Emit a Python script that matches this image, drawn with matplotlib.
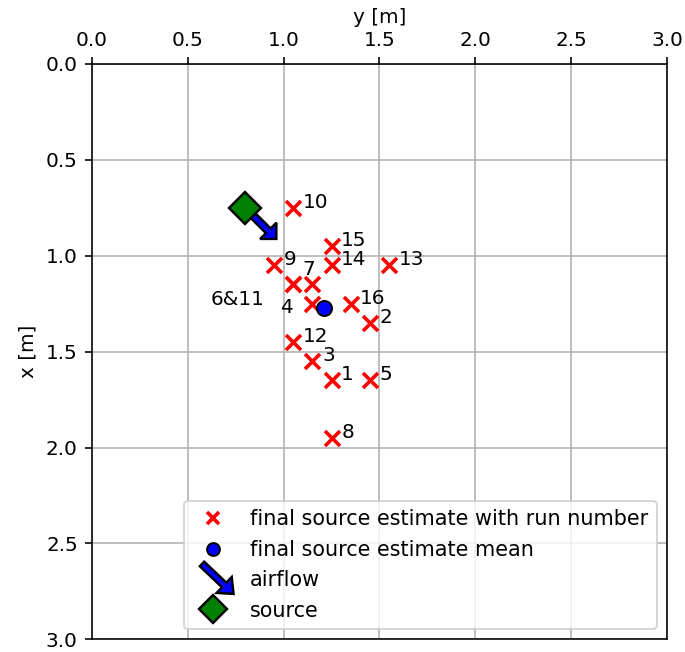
import numpy as np
import matplotlib
matplotlib.use("Agg")
import matplotlib.pyplot as plt
import matplotlib.patches as mpatches
from matplotlib.lines import Line2D
from matplotlib.legend_handler import HandlerPatch

# final source estimates per run (y horizontal, x vertical) [m]
run_ids = [1, 2, 3, 4, 5, 6, 7, 8, 9, 10, 11, 12, 13, 14, 15, 16]
est_y = [1.25, 1.45, 1.15, 1.15, 1.45, 1.05, 1.15, 1.25, 0.95, 1.05, 1.05, 1.05, 1.55, 1.25, 1.25, 1.35]
est_x = [1.65, 1.35, 1.55, 1.25, 1.65, 1.15, 1.15, 1.95, 1.05, 0.75, 1.15, 1.45, 1.05, 1.05, 0.95, 1.25]

# source position and airflow direction
source_y, source_x = 0.80, 0.75
flow_dy, flow_dx = 0.12, 0.12

# runs sharing a spot get one label
labels = {i: str(i) for i in run_ids}
labels[6] = "6&11"
labels[11] = ""

# label offsets (dy, dx, ha), default is right of the marker
label_pos = {"6&11": (-0.15, 0.105, "right"), 4: (-0.10, 0.05, "right"), 7: (-0.05, -0.05, "left")}

fig = plt.figure(figsize=(685 / 144, 652 / 144), dpi=144)
ax = fig.add_axes([0.134, 0.0184, 0.840, 0.8846])

ax.plot(est_y, est_x, "x", color="red", ms=7.5, mew=1.8, ls="none", zorder=4)
ax.plot(np.mean(est_y), np.mean(est_x), "o", color="blue", mec="black", ms=7.5, mew=1.0, zorder=5)

arrow = ax.arrow(source_y, source_x, flow_dy, flow_dx, width=0.035, head_width=0.12,
                 head_length=0.06, fc="blue", ec="black", lw=1.2, zorder=5)
ax.plot(source_y, source_x, "D", color="green", mec="black", ms=11.5, mew=1.2, zorder=6)

for i, y, x in zip(run_ids, est_y, est_x):
    txt = labels[i]
    if not txt:
        continue
    key = txt if txt in label_pos else i
    dy, dx, ha = label_pos.get(key, (0.05, 0.0, "left"))
    ax.text(y + dy, x + dx, txt, ha=ha, va="baseline", fontsize=10, zorder=7)

ax.set_xlim(0, 3)
ax.set_ylim(3, 0)
ax.set_aspect("equal")
ax.xaxis.tick_top()
ax.xaxis.set_label_position("top")
ax.set_xlabel("y [m]")
ax.set_ylabel("x [m]")
ax.grid(True)
ax.set_axisbelow(True)


def make_arrow(legend, orig_handle, xdescent, ydescent, width, height, fontsize):
    cy = height / 2 - ydescent
    return mpatches.FancyArrow(0.24 * width, cy + 7.5, 0.76 * width, -15.0, width=3.2,
                               head_width=11.0, head_length=6.5, length_includes_head=True)


h_est = Line2D([], [], marker="x", color="red", ms=7.5, mew=1.8, ls="none")
h_mean = Line2D([], [], marker="o", color="blue", mec="black", ms=7.5, mew=1.0, ls="none")
h_flow = mpatches.FancyArrow(0, 0, 1, 1, fc="blue", ec="black", lw=1.2)
h_src = Line2D([], [], marker="D", color="green", mec="black", ms=11.5, mew=1.2, ls="none")

ax.legend([h_est, h_mean, h_flow, h_src],
          ["final source estimate with run number", "final source estimate mean", "airflow", "source"],
          loc="lower right", markerscale=0.85, fontsize=10.4,
          handler_map={mpatches.FancyArrow: HandlerPatch(patch_func=make_arrow)})

fig.savefig("out.png", dpi=144)
